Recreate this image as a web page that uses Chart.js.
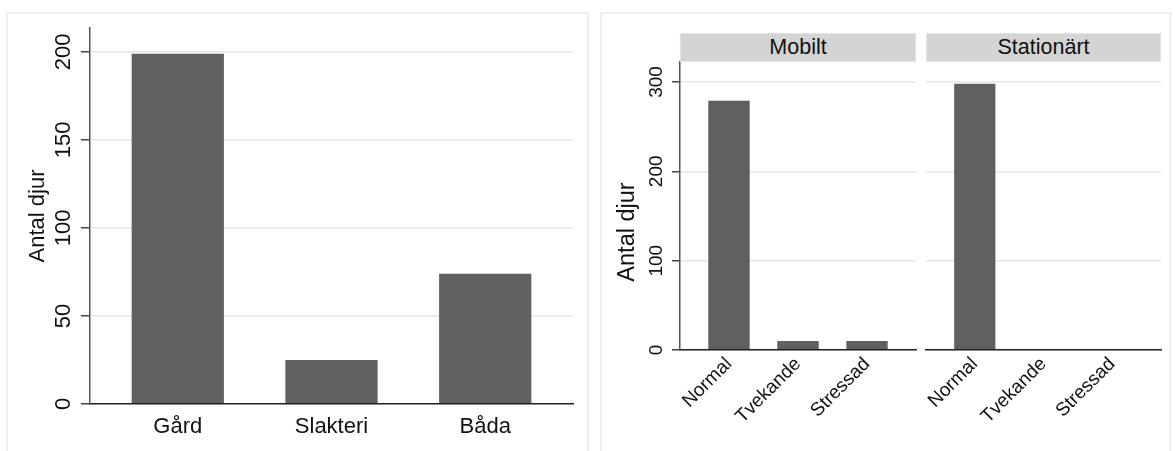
<!DOCTYPE html>
<html>
<head>
<meta charset="UTF-8">
<title>Antal djur</title>
<script src="https://cdn.jsdelivr.net/npm/chart.js"></script>
<style>
  body { margin: 0; background: #fff; width: 1175px; height: 451px; overflow: hidden; position: relative;
         font-family: "Liberation Sans", Arial, sans-serif; color: #111; }
  .frame { position: absolute; top: 12px; height: 460px; border: 2px solid #eeeeee; box-sizing: border-box; }
  canvas { position: absolute; top: 0; }
  .strip { position: absolute; top: 33px; height: 29px; background: #d4d4d4; border: 1px solid #dbe5ee;
           box-sizing: border-box; font-size: 21.5px; line-height: 27px; text-align: center; }
  .ytitle { position: absolute; width: 200px; height: 24px; line-height: 24px; font-size: 23.5px;
            text-align: center; transform: rotate(-90deg); }
</style>
</head>
<body>
<div class="frame" style="left:6px; width:583px;"></div>
<div class="frame" style="left:600px; width:571px;"></div>

<canvas id="left" width="590" height="451" style="left:0"></canvas>
<canvas id="mobilt" width="320" height="451" style="left:600px"></canvas>
<canvas id="stationart" width="255" height="451" style="left:920px"></canvas>

<div class="strip" style="left:680px; width:236px;">Mobilt</div>
<div class="strip" style="left:926px; width:235px;">Stationärt</div>
<div class="ytitle" style="left:526px; top:219.5px;">Antal djur</div>

<script>
    // vänster: var djuren kom ifrån
    var sites = ['Gård', 'Slakteri', 'Båda'];
    var siteCounts = [199, 25, 74];
    var leftTicks = [0, 50, 100, 150, 200];

    // höger: beteende per slakteri-typ
    var behaviours = ['Normal', 'Tvekande', 'Stressad'];
    var mobiltCounts = [279, 10, 10];
    var stationartCounts = [298, 1, 0];
    var rightTicks = [0, 100, 200, 300];

    Chart.defaults.font.family = '"Liberation Sans", Arial, sans-serif';
    Chart.defaults.color = '#111';

    function barChart(id, cats, values, o) {
        return new Chart(document.getElementById(id), {
            type: 'bar',
            data: {
                datasets: [{
                    data: values.map(function (v, i) { return {x: i, y: v}; }),
                    backgroundColor: '#606060',
                    categoryPercentage: 0.6,
                    barPercentage: 1
                }]
            },
            options: {
                responsive: false,
                animation: false,
                devicePixelRatio: 1,
                layout: {padding: o.pad},
                plugins: {legend: {display: false}, tooltip: {enabled: false}},
                scales: {
                    x: {
                        type: 'linear',
                        offset: false,
                        bounds: 'data',
                        min: -o.margin,
                        max: cats.length - 1 + o.margin,
                        afterBuildTicks: function (s) { s.ticks = cats.map(function (c, i) { return {value: i}; }); },
                        afterFit: function (s) { s.height = o.xHeight; },
                        grid: {display: false, drawTicks: false},
                        border: {color: '#222', width: 1.5, z: 1},
                        ticks: {
                            callback: function (v) { return cats[v]; },
                            font: {size: o.font},
                            padding: o.xPad,
                            minRotation: o.rot,
                            maxRotation: o.rot,
                            autoSkip: false
                        }
                    },
                    y: {
                        min: 0,
                        max: o.yMax,
                        afterBuildTicks: function (s) { s.ticks = o.yTicks.map(function (v) { return {value: v}; }); },
                        afterFit: function (s) { s.width = o.yWidth; },
                        grid: {color: '#e6e6e6', lineWidth: 1.5, tickColor: '#444', tickLength: o.tl, drawTicks: o.showY, z: -1},
                        border: {display: o.showY, color: '#555', width: 1.5, z: 1},
                        ticks: {
                            display: o.showY,
                            font: {size: o.font},
                            minRotation: 90,
                            maxRotation: 90,
                            crossAlign: 'center',
                            padding: -1
                        },
                        title: {
                            display: !!o.title,
                            text: o.title,
                            font: {size: o.font},
                            padding: {top: o.titlePad || 0, bottom: 0}
                        }
                    }
                }
            }
        });
    }

    barChart('left', sites, siteCounts, {
        pad: {top: 28, right: 17, left: 0, bottom: 0},
        margin: 0.571, xHeight: 47, xPad: 10, rot: 0, font: 22,
        yMax: 213.6, yTicks: leftTicks, yWidth: 90, tl: 9, showY: true,
        title: 'Antal djur', titlePad: 25
    });

    barChart('mobilt', behaviours, mobiltCounts, {
        pad: {top: 62, right: 4, left: 0, bottom: 0},
        margin: 0.71, xHeight: 101, xPad: 3, rot: 45, font: 19,
        yMax: 322.4, yTicks: rightTicks, yWidth: 80, tl: 8, showY: true
    });

    barChart('stationart', behaviours, stationartCounts, {
        pad: {top: 62, right: 14, left: 6, bottom: 0},
        margin: 0.71, xHeight: 101, xPad: 3, rot: 45, font: 19,
        yMax: 322.4, yTicks: rightTicks, yWidth: 0, tl: 0, showY: false
    });
</script>
</body>
</html>
